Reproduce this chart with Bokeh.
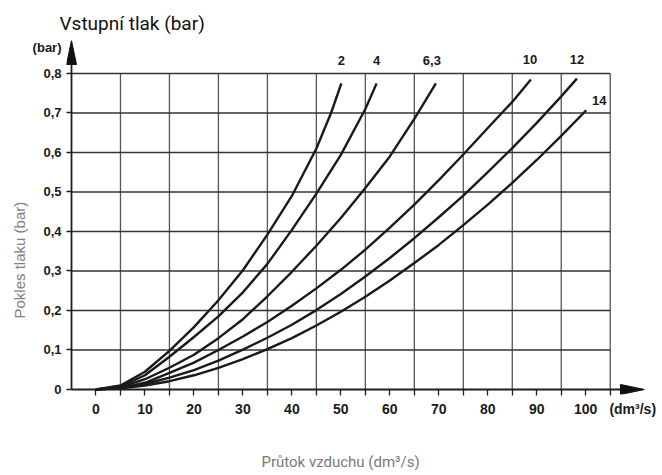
from bokeh.plotting import figure
from bokeh.models import Range1d, FixedTicker, Title
from bokeh.core.properties import value
from bokeh.embed import file_html
from bokeh.resources import INLINE

# ---------------- data ----------------
series_names = ["2", "4", "6,3", "10", "12", "14"]

flow_2 = [0, 5, 10, 15, 20, 25, 30, 35, 40, 45, 48, 50.1]
drop_2 = [0, 0.01, 0.045, 0.098, 0.158, 0.226, 0.302, 0.392, 0.49, 0.61, 0.7, 0.775]

flow_4 = [0, 5, 10, 15, 20, 25, 30, 35, 40, 45, 50, 55, 57.3]
drop_4 = [0, 0.008, 0.036, 0.083, 0.133, 0.185, 0.246, 0.318, 0.404, 0.496, 0.594, 0.71, 0.775]

flow_63 = [0, 5, 10, 15, 20, 25, 30, 35, 40, 45, 50, 55, 60, 65, 69.4]
drop_63 = [0, 0.006, 0.026, 0.055, 0.088, 0.13, 0.178, 0.236, 0.298, 0.364, 0.434, 0.51, 0.59, 0.685, 0.775]

flow_10 = [0, 5, 10, 15, 20, 25, 30, 35, 40, 45, 50, 55, 60, 65, 70, 75, 80, 85, 88.8]
drop_10 = [0, 0.004, 0.017, 0.042, 0.068, 0.1, 0.134, 0.171, 0.212, 0.256, 0.303, 0.354, 0.41,
           0.468, 0.53, 0.595, 0.662, 0.728, 0.785]

flow_12 = [0, 5, 10, 15, 20, 25, 30, 35, 40, 45, 50, 55, 60, 65, 70, 75, 80, 85, 90, 95, 98.2]
drop_12 = [0, 0.004, 0.014, 0.03, 0.049, 0.073, 0.101, 0.131, 0.164, 0.201, 0.242, 0.286, 0.333,
           0.383, 0.436, 0.491, 0.55, 0.611, 0.675, 0.742, 0.787]

flow_14 = [0, 5, 10, 15, 20, 25, 30, 35, 40, 45, 50, 55, 60, 65, 70, 75, 80, 85, 90, 95, 100.1]
drop_14 = [0, 0.003, 0.01, 0.021, 0.036, 0.055, 0.077, 0.102, 0.13, 0.162, 0.197, 0.235, 0.276,
           0.32, 0.366, 0.416, 0.468, 0.523, 0.581, 0.642, 0.707]

x_tick_values = [0, 10, 20, 30, 40, 50, 60, 70, 80, 90, 100]
x_tick_labels = ["0", "10", "20", "30", "40", "50", "60", "70", "80", "90", "100"]
x_mark_values = [0, 5, 10, 15, 20, 25, 30, 35, 40, 45, 50, 55, 60, 65, 70, 75, 80, 85, 90, 95, 100, 105]
x_grid_values = [5, 15, 25, 35, 45, 55, 65, 75, 85, 95, 105]
y_tick_values = [0, 0.1, 0.2, 0.3, 0.4, 0.5, 0.6, 0.7, 0.8]
y_tick_labels = ["0", "0,1", "0,2", "0,3", "0,4", "0,5", "0,6", "0,7", "0,8"]

title_text = "Vstupní tlak (bar)"
y_unit_text = "(bar)"
y_title_text = "Pokles tlaku (bar)"
x_title_text = "Průtok vzduchu (dm³/s)"
x_unit_text = "(dm³/s)"

# ---------------- layout ----------------
PXU_X = 4.9      # px per x unit
PXU_Y = 395.0    # px per y unit
GX0, GX1 = -5, 105     # grid extent (x)
GY1 = 0.8              # grid extent (y)
X_TIP = 112.0          # x arrow tip
Y_TIP = 0.8835         # y arrow tip
pad_x = 5 / PXU_X
pad_y = 5 / PXU_Y
X0, X1 = GX0 - pad_x, X_TIP
Y0, Y1 = -pad_y, Y_TIP
Y_UNIT_POS = 0.867
X_UNIT_POS = 109.6

p = figure(width=662, height=475, x_range=Range1d(X0, X1), y_range=Range1d(Y0, Y1),
           output_backend="svg", toolbar_location=None, title=None,
           min_border_left=66, min_border_right=18, min_border_top=40, min_border_bottom=81)
p.outline_line_color = None
p.grid.visible = False
p.background_fill_color = "white"
p.border_fill_color = "white"

dark = "#1e1e1e"

# x axis (ticks and labels); the axis line itself is drawn at y = 0 below
xa = p.xaxis[0]
xa.ticker = FixedTicker(ticks=x_tick_values + [X_UNIT_POS], minor_ticks=x_mark_values)
xa.major_label_overrides = dict(zip(x_tick_values + [X_UNIT_POS], x_tick_labels + [x_unit_text]))
xa.axis_line_color = None
xa.major_tick_out = 1
xa.major_tick_in = 0
xa.major_tick_line_color = None
xa.minor_tick_out = 1
xa.minor_tick_in = 5
xa.minor_tick_line_color = dark
xa.minor_tick_line_width = 1.3
xa.major_label_text_font = "Liberation Sans"
xa.major_label_text_font_style = "bold"
xa.major_label_text_font_size = "14px"
xa.major_label_text_color = "#1a1a1a"
xa.major_label_standoff = 5
xa.axis_label = x_title_text + "\u00a0" * 8
xa.axis_label_text_font = "Roboto"
xa.axis_label_text_font_style = "normal"
xa.axis_label_text_font_size = "15px"
xa.axis_label_text_color = "#7a7a7a"
xa.axis_label_standoff = 33

# y axis
ya = p.yaxis[0]
ya.ticker = FixedTicker(ticks=y_tick_values + [Y_UNIT_POS], minor_ticks=y_tick_values)
ya.major_label_overrides = dict(zip(y_tick_values + [Y_UNIT_POS], y_tick_labels + [y_unit_text]))
ya.axis_line_color = None
ya.major_tick_out = 0
ya.major_tick_in = 0
ya.major_tick_line_color = None
ya.minor_tick_out = 0
ya.minor_tick_in = 5
ya.minor_tick_line_color = dark
ya.minor_tick_line_width = 1.3
ya.major_label_text_font = "Liberation Sans"
ya.major_label_text_font_style = "bold"
ya.major_label_text_font_size = "13px"
ya.major_label_text_color = "#1a1a1a"
ya.major_label_standoff = 5

# titles
p.add_layout(Title(text=y_title_text, align="left", offset=76, standoff=4,
                   text_font="Liberation Sans", text_font_style="normal",
                   text_font_size="15px", text_color="#808080"), "left")
p.add_layout(Title(text=title_text, align="left", offset=-7, standoff=12,
                   text_font="Roboto", text_font_style="normal",
                   text_font_size="19px", text_color="#111111"), "above")

# grid
p.segment(x0=x_grid_values, y0=[0] * len(x_grid_values), x1=x_grid_values,
          y1=[GY1] * len(x_grid_values), line_color="#555555", line_width=1.3)
hy = y_tick_values[1:]
p.segment(x0=[GX0] * len(hy), y0=hy, x1=[GX1] * len(hy), y1=hy,
          line_color="#333333", line_width=1.3)

# axis lines with arrow heads
ax_len = 24 / PXU_X
ax_half = 5 / PXU_Y
ay_len = 24 / PXU_Y
ay_half = 5 / PXU_X
p.segment(x0=[GX0, GX0], y0=[0, 0], x1=[X_TIP - ax_len, GX0], y1=[0, Y_TIP - ay_len],
          line_color=dark, line_width=1.8)
p.patch(x=[X_TIP - ax_len, X_TIP, X_TIP - ax_len], y=[-ax_half, 0, ax_half], color="#111111")
p.patch(x=[GX0 - ay_half, GX0, GX0 + ay_half], y=[Y_TIP - ay_len, Y_TIP, Y_TIP - ay_len],
        color="#111111")

# curves
curves = [(flow_2, drop_2), (flow_4, drop_4), (flow_63, drop_63),
          (flow_10, drop_10), (flow_12, drop_12), (flow_14, drop_14)]
for fx, dy in curves:
    p.line(fx, dy, line_color="#1a1a1a", line_width=2.4, line_join="round")

# curve labels placed relative to each curve end
offs_x = [0, 0, -4, -1, 0, 13]
offs_y = [-23, -23, -23, -20, -19, -10]
for (fx, dy), name, ox, oy in zip(curves, series_names, offs_x, offs_y):
    p.text(x=[fx[-1]], y=[dy[-1]], text=[name], x_offset=ox, y_offset=oy,
           text_font=value("Liberation Sans"), text_font_style="bold",
           text_font_size="13px", text_align="center", text_baseline="middle",
           text_color="#1a1a1a")

open("out.html", "w").write(file_html(p, INLINE))
